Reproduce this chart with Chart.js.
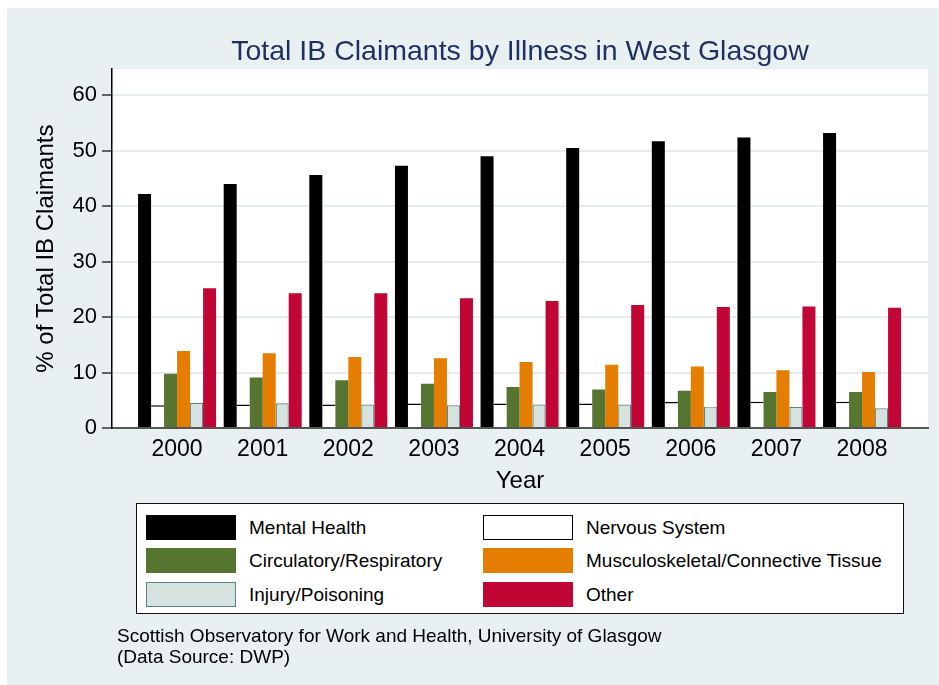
<!DOCTYPE html>
<html>
<head>
<meta charset="utf-8">
<title>Total IB Claimants by Illness in West Glasgow</title>
<script src="https://cdn.jsdelivr.net/npm/chart.js@4.4.1/dist/chart.umd.min.js"></script>
<style>
    html, body { margin: 0; padding: 0; background: #fff; }
    body { width: 939px; height: 685px; position: relative; overflow: hidden; font-family: "Liberation Sans", Arial, sans-serif; }
    #panel { position: absolute; left: 7px; top: 8px; width: 932px; height: 677px; background: #e8f0f2; }
    #chart { position: absolute; left: 0; top: 0; }
    #legend { position: absolute; left: 129px; top: 495px; width: 766px; height: 109px; background: #fff; border: 1px solid #111; }
    .item { position: absolute; height: 25px; }
    .swatch { position: absolute; left: 0; top: 0; width: 88px; height: 23px; border: 1px solid transparent; }
    .label { position: absolute; left: 103px; top: 0; line-height: 25px; font-size: 19px; white-space: nowrap; color: #000; }
    #footer { position: absolute; left: 110px; top: 617px; font-size: 19px; line-height: 21px; color: #000; }
</style>
</head>
<body>
<div id="panel">
    <canvas id="chart" width="932" height="677"></canvas>
    <div id="legend"></div>
    <div id="footer">Scottish Observatory for Work and Health, University of Glasgow<br>(Data Source: DWP)</div>
</div>
<script>
// =========================
// DADOS
// =========================
const years = [2000, 2001, 2002, 2003, 2004, 2005, 2006, 2007, 2008];
const yTicks = [0, 10, 20, 30, 40, 50, 60];

const mentalHealth    = [42.2, 44.0, 45.6, 47.3, 49.0, 50.5, 51.7, 52.4, 53.2];
const nervousSystem   = [4.1, 4.25, 4.25, 4.4, 4.4, 4.4, 4.7, 4.75, 4.75];
const circulatory     = [9.8, 9.1, 8.6, 8.0, 7.4, 6.95, 6.7, 6.5, 6.5];
const musculoskeletal = [13.9, 13.5, 12.8, 12.6, 11.9, 11.4, 11.1, 10.4, 10.1];
const injury          = [4.55, 4.45, 4.25, 4.1, 4.25, 4.25, 3.85, 3.8, 3.55];
const other           = [25.2, 24.3, 24.3, 23.4, 22.9, 22.2, 21.8, 21.9, 21.7];

const seriesNames = ['Mental Health', 'Nervous System', 'Circulatory/Respiratory',
                     'Musculoskeletal/Connective Tissue', 'Injury/Poisoning', 'Other'];

const FONT = '"Liberation Sans", Arial, sans-serif';

function toPoints(values) {
    return years.map((yr, i) => ({ x: yr, y: values[i] }));
}

function serie(label, values, fill, border, width) {
    return {
        label: label,
        data: toPoints(values),
        backgroundColor: fill,
        borderColor: border,
        borderWidth: width,
        borderSkipped: 'bottom',
        categoryPercentage: 0.911,
        barPercentage: 1.0
    };
}

// fundo branco da área do gráfico
const plotBackground = {
    id: 'plotBackground',
    beforeDraw(chart) {
        const { ctx, chartArea: a } = chart;
        ctx.save();
        ctx.fillStyle = '#ffffff';
        ctx.fillRect(a.left, a.top, a.right - a.left, a.bottom - a.top);
        ctx.restore();
    }
};

const ctx = document.getElementById('chart');
const chart = new Chart(ctx.getContext('2d'), {
    type: 'bar',
    data: {
        datasets: [
            serie(seriesNames[0], mentalHealth, '#000000', '#000000', 0),
            serie(seriesNames[1], nervousSystem, '#ffffff', '#000000', { top: 1.5, left: 0, right: 0, bottom: 0 }),
            serie(seriesNames[2], circulatory, '#557530', '#557530', 0),
            serie(seriesNames[3], musculoskeletal, '#e57e00', '#e57e00', 0),
            serie(seriesNames[4], injury, '#d6e2e0', '#4f8a88', 1.2),
            serie(seriesNames[5], other, '#c10534', '#c10534', 0)
        ]
    },
    options: {
        responsive: false,
        animation: false,
        layout: { padding: { left: 0, right: 11, top: 0, bottom: 182 } },
        plugins: {
            legend: { display: false },
            tooltip: { enabled: false },
            title: {
                display: true,
                fullSize: false,
                text: 'Total IB Claimants by Illness in West Glasgow',
                color: '#1f2f5f',
                font: { family: FONT, size: 28.5, weight: 'normal' },
                padding: { top: 27, bottom: 0 }
            }
        },
        scales: {
            x: {
                type: 'linear',
                offset: false,
                min: 1999.24,
                max: 2008.77,
                afterBuildTicks: s => { s.ticks = years.map(v => ({ value: v })); },
                afterFit: s => { s.height = 75; },
                grid: { display: false, drawTicks: false, offset: false },
                border: { display: true, color: '#555555', width: 2 },
                ticks: {
                    color: '#000',
                    padding: 8,
                    font: { family: FONT, size: 23 },
                    callback: v => String(v)
                },
                title: {
                    display: true,
                    text: 'Year',
                    color: '#000',
                    font: { family: FONT, size: 24 },
                    padding: { top: 0, bottom: 7.6 }
                }
            },
            y: {
                min: 0,
                max: 64.7,
                afterBuildTicks: s => { s.ticks = yTicks.map(v => ({ value: v })); },
                afterFit: s => { s.width = 105; },
                grid: {
                    color: '#e5edf0',
                    lineWidth: 2,
                    tickColor: '#333333',
                    tickLength: 10,
                    tickWidth: 1.5
                },
                border: { color: '#000000', width: 1.5 },
                ticks: {
                    color: '#000',
                    padding: 5,
                    font: { family: FONT, size: 22 },
                    callback: v => String(v)
                },
                title: {
                    display: true,
                    text: '% of Total IB Claimants',
                    color: '#000',
                    font: { family: FONT, size: 24 },
                    padding: { top: 24.6, bottom: 0 }
                }
            }
        }
    },
    plugins: [plotBackground]
});

// =========================
// LEGENDA (2 colunas)
// =========================
const legend = document.getElementById('legend');
const colLeft = [9, 346];
const rowTop = [11, 44, 78];
chart.data.datasets.forEach((ds, i) => {
    const item = document.createElement('div');
    item.className = 'item';
    item.style.left = colLeft[i % 2] + 'px';
    item.style.top = rowTop[Math.floor(i / 2)] + 'px';
    const sw = document.createElement('div');
    sw.className = 'swatch';
    sw.style.background = ds.backgroundColor;
    const hasBorder = typeof ds.borderWidth === 'object' || ds.borderWidth > 0;
    sw.style.borderColor = hasBorder ? ds.borderColor : ds.backgroundColor;
    const lb = document.createElement('div');
    lb.className = 'label';
    lb.textContent = ds.label;
    item.appendChild(sw);
    item.appendChild(lb);
    legend.appendChild(item);
});
</script>
</body>
</html>
